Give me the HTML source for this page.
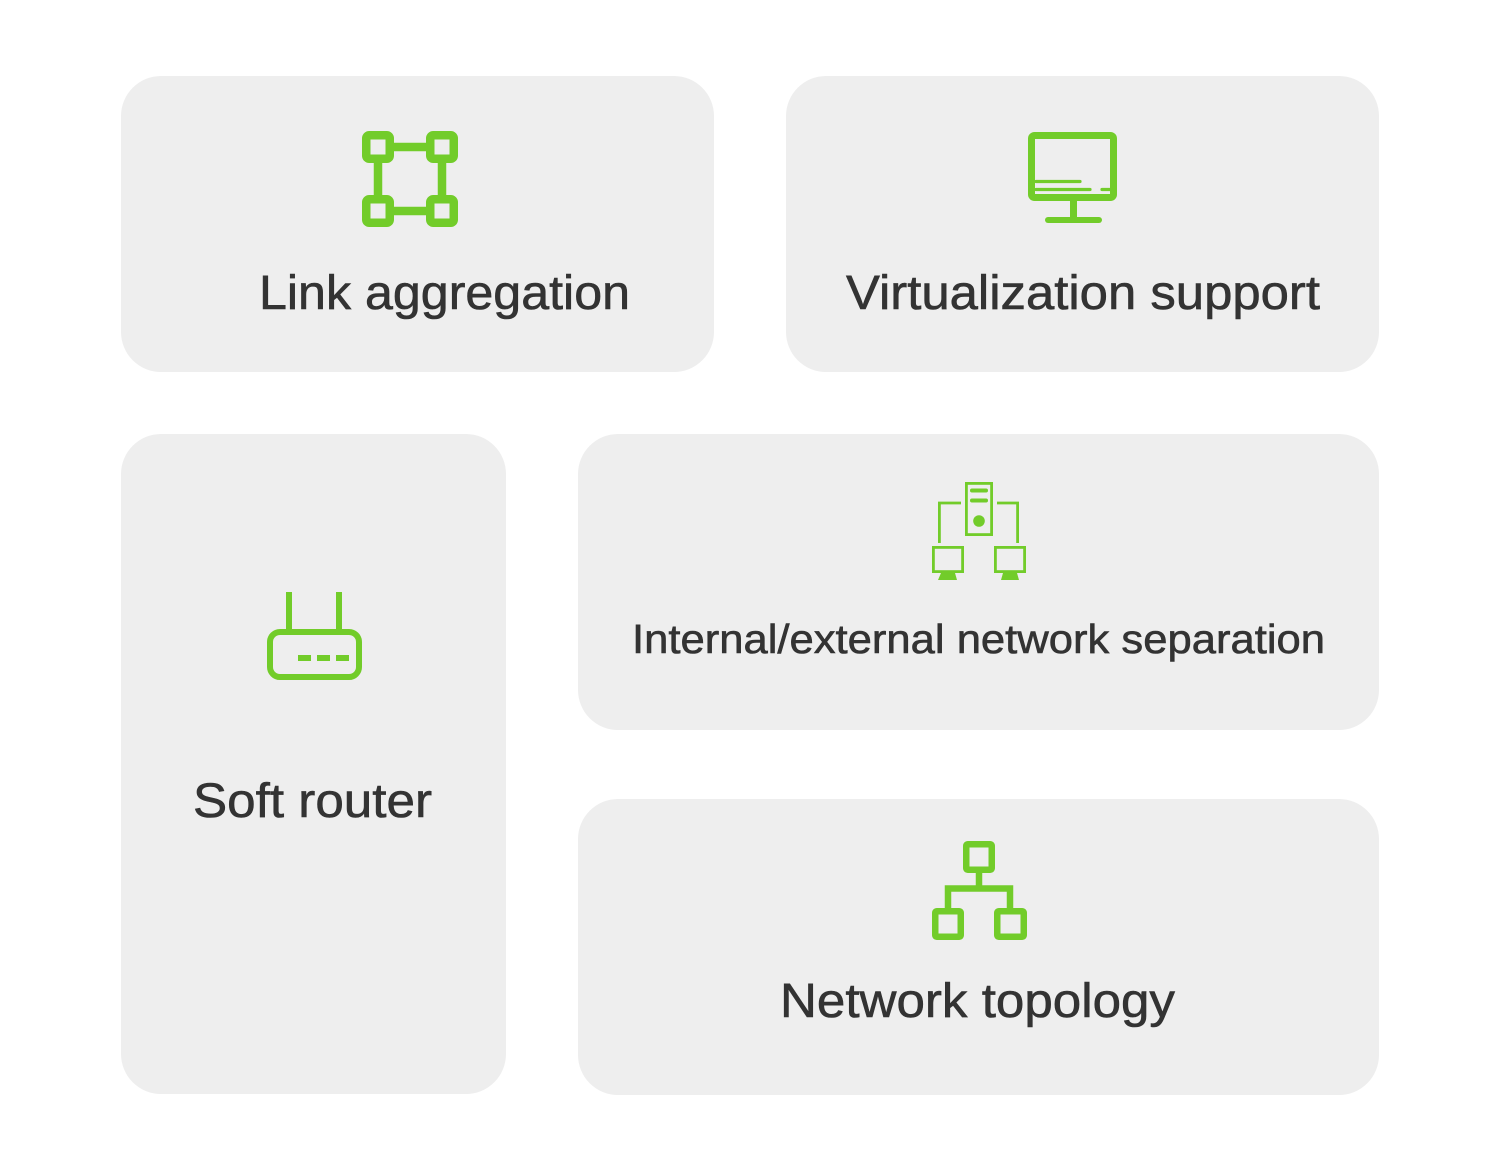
<!DOCTYPE html>
<html>
<head>
<meta charset="utf-8">
<style>
html,body{margin:0;padding:0;background:#ffffff;}
svg{display:block;}
text{font-family:"Liberation Sans", sans-serif;fill:#333333;stroke:#333333;stroke-width:0.6;}
</style>
</head>
<body>
<svg width="1500" height="1157" viewBox="0 0 1500 1157" xmlns="http://www.w3.org/2000/svg">
  <rect x="0" y="0" width="1500" height="1157" fill="#ffffff"/>
  <!-- cards -->
  <rect x="121" y="76" width="593" height="296" rx="40" ry="40" fill="#eeeeee"/>
  <rect x="786" y="76" width="593" height="296" rx="40" ry="40" fill="#eeeeee"/>
  <rect x="121" y="434" width="385" height="660" rx="40" ry="40" fill="#eeeeee"/>
  <rect x="578" y="434" width="801" height="296" rx="40" ry="40" fill="#eeeeee"/>
  <rect x="578" y="799" width="801" height="296" rx="40" ry="40" fill="#eeeeee"/>

  <!-- Icon 1: link aggregation -->
  <g fill="none" stroke="#72cc2a" stroke-width="8.5">
    <line x1="390" y1="147" x2="430" y2="147"/>
    <line x1="390" y1="211" x2="430" y2="211"/>
    <line x1="378" y1="159" x2="378" y2="199"/>
    <line x1="442" y1="159" x2="442" y2="199"/>
    <rect x="366.25" y="135.25" width="23.5" height="23.5" rx="3"/>
    <rect x="430.25" y="135.25" width="23.5" height="23.5" rx="3"/>
    <rect x="366.25" y="199.25" width="23.5" height="23.5" rx="3"/>
    <rect x="430.25" y="199.25" width="23.5" height="23.5" rx="3"/>
  </g>

  <!-- Icon 2: monitor -->
  <g fill="none" stroke="#72cc2a">
    <rect x="1031.5" y="135.5" width="82" height="62" rx="3" stroke-width="7"/>
    <line x1="1036" y1="181.5" x2="1080" y2="181.5" stroke-width="3.2" stroke-linecap="round"/>
    <line x1="1036" y1="189.5" x2="1090" y2="189.5" stroke-width="3.2" stroke-linecap="round"/>
    <line x1="1102" y1="189.5" x2="1113" y2="189.5" stroke-width="3.2" stroke-linecap="round"/>
    <line x1="1073.5" y1="200" x2="1073.5" y2="218" stroke-width="7"/>
    <line x1="1048" y1="220" x2="1099" y2="220" stroke-width="6" stroke-linecap="round"/>
  </g>

  <!-- Icon 3: network separation -->
  <g fill="none" stroke="#72cc2a" stroke-width="2.8">
    <rect x="966.4" y="483.4" width="25.2" height="51.2"/>
    <polyline points="961,503 939.4,503 939.4,543"/>
    <polyline points="997,503 1017.6,503 1017.6,543"/>
    <rect x="933.4" y="547.4" width="29.2" height="24.2"/>
    <rect x="995.4" y="547.4" width="29.2" height="24.2"/>
  </g>
  <g fill="#72cc2a">
    <rect x="970" y="488.5" width="18" height="4" rx="2"/>
    <rect x="970" y="498.5" width="18" height="4" rx="2"/>
    <circle cx="979" cy="521" r="5.8"/>
    <polygon points="941,573 955,573 957,580 938,580"/>
    <polygon points="1003,573 1017,573 1019,580 1001,580"/>
  </g>

  <!-- Icon 4: router -->
  <g fill="none" stroke="#72cc2a" stroke-width="6">
    <line x1="289" y1="592" x2="289" y2="632"/>
    <line x1="339" y1="592" x2="339" y2="632"/>
    <rect x="270" y="632" width="89" height="45" rx="10"/>
  </g>
  <g fill="#72cc2a">
    <rect x="298" y="655" width="13" height="6"/>
    <rect x="317" y="655" width="13" height="6"/>
    <rect x="336" y="655" width="13" height="6"/>
  </g>

  <!-- Icon 5: topology -->
  <g fill="none" stroke="#72cc2a" stroke-width="6.5">
    <rect x="966.25" y="844.25" width="25.5" height="25.5" rx="1.5"/>
    <line x1="979" y1="873" x2="979" y2="888.5"/>
    <polyline points="948,908 948,888.5 1010,888.5 1010,908"/>
    <rect x="935.25" y="911.25" width="25.5" height="25.5" rx="1.5"/>
    <rect x="997.25" y="911.25" width="26.5" height="25.5" rx="1.5"/>
  </g>

  <!-- labels -->
  <text x="259" y="309" font-size="48" textLength="371" lengthAdjust="spacingAndGlyphs">Link aggregation</text>
  <text x="846" y="309" font-size="48" textLength="474" lengthAdjust="spacingAndGlyphs">Virtualization support</text>
  <text x="193" y="817" font-size="48" textLength="239" lengthAdjust="spacingAndGlyphs">Soft router</text>
  <text x="632" y="653" font-size="41" textLength="693" lengthAdjust="spacingAndGlyphs">Internal/external network separation</text>
  <text x="780" y="1017" font-size="48" textLength="395" lengthAdjust="spacingAndGlyphs">Network topology</text>
</svg>
</body>
</html>
